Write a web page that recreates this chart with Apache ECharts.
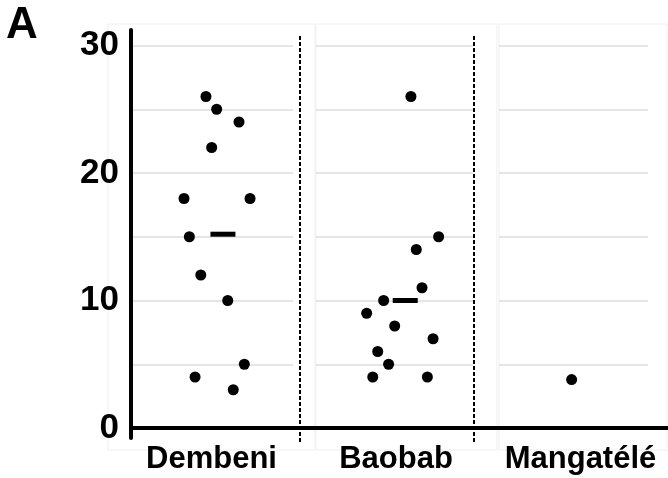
<!DOCTYPE html>
<html>
<head>
<meta charset="utf-8">
<script src="https://cdn.jsdelivr.net/npm/echarts@6/dist/echarts.min.js"></script>
<style>
html,body{margin:0;padding:0;background:#fff;}
#chart{width:668px;height:478px;}
</style>
</head>
<body>
<div id="chart"></div>
<script>
// ---- data ----
const categories = ['Dembeni', 'Baobab', 'Mangatélé'];
const categoryPos = [1, 2, 3];
const yTickLabels = [0, 10, 20, 30];

const dembeniY = [26, 25, 24, 22, 18, 18, 15, 12, 10, 5, 4, 3];
const dembeniX = [0.970, 1.028, 1.149, 1.001, 0.851, 1.209, 0.880, 0.942, 1.088, 1.178, 0.911, 1.118];

const baobabY = [26, 15, 14, 11, 10, 9, 8, 7, 6, 5, 4, 4];
const baobabX = [2.081, 2.231, 2.110, 2.141, 1.933, 1.841, 1.993, 2.201, 1.901, 1.960, 1.874, 2.170];

const mangateleY = [3.8];
const mangateleX = [2.952];

const meanY = [15.2, 10.0];
const meanX = [1.062, 2.050];

const separatorX = [1.480, 2.423];

// ---- layout ----
const X_MIN = 0.5637, X_MAX = 3.4743;
const Y_MIN = -0.784, Y_MAX = 31.216;
const FONT = "'Liberation Sans', Arial, Helvetica, sans-serif";

const zip = (xs, ys) => xs.map((x, i) => [x, ys[i]]);

const frames = [
  {left: 108, width: 207, top: 24, height: 426},
  {left: 316, width: 181, top: 24, height: 426},
  {left: 499, width: 168, top: 24, height: 426}
];
const panels = [
  {left: 133, width: 160},
  {left: 316, width: 157},
  {left: 499, width: 149}
];

const grids = [], xAxes = [], yAxes = [];
const hiddenAxis = (gi) => ({gridIndex: gi, type: 'value', show: false, min: 0, max: 1});
const G = {containLabel: false, outerBoundsMode: 'none'};

frames.forEach(f => {
  const gi = grids.length;
  grids.push(Object.assign({show: true, borderColor: '#efefef', borderWidth: 1, backgroundColor: 'transparent'}, G, f));
  xAxes.push(hiddenAxis(gi));
  yAxes.push(hiddenAxis(gi));
});
panels.forEach(p => {
  const gi = grids.length;
  grids.push(Object.assign({top: 45.5, height: 382.5, show: false}, G, p));
  xAxes.push(hiddenAxis(gi));
  yAxes.push({
    gridIndex: gi, type: 'value', min: 0, max: 30, interval: 5,
    axisLine: {show: false}, axisTick: {show: false}, axisLabel: {show: false},
    splitLine: {show: true, lineStyle: {color: '#dcdcdc', width: 1.5}}
  });
});
// dashed separator grid
const dashGrid = grids.length;
grids.push(Object.assign({left: 131, right: 0, top: 35, height: 407, show: false}, G));
xAxes.push({gridIndex: dashGrid, type: 'value', show: false, min: X_MIN, max: X_MAX});
yAxes.push(hiddenAxis(dashGrid));
// main grid
const mainGrid = grids.length;
grids.push(Object.assign({left: 131, right: 0, top: 30, height: 408, show: false}, G));
xAxes.push({
  gridIndex: mainGrid, type: 'value', min: X_MIN, max: X_MAX,
  axisLine: {show: true, onZero: true, lineStyle: {color: '#000', width: 4}},
  axisTick: {show: false},
  splitLine: {show: false},
  axisLabel: {
    customValues: categoryPos, margin: 6,
    color: '#000', fontSize: 31, fontWeight: 'bold', fontFamily: FONT,
    formatter: (v) => categories[categoryPos.indexOf(v)] || ''
  }
});
yAxes.push({
  gridIndex: mainGrid, type: 'value', min: Y_MIN, max: Y_MAX,
  axisLine: {show: true, lineStyle: {color: '#000', width: 4}},
  axisTick: {show: false},
  splitLine: {show: false},
  axisLabel: {
    customValues: yTickLabels, margin: 12,
    color: '#000', fontSize: 35, fontWeight: 'bold', fontFamily: FONT
  }
});

const dotStyle = {color: '#000', opacity: 1};
const series = [
  {
    type: 'scatter', xAxisIndex: dashGrid, yAxisIndex: dashGrid, data: [], silent: true,
    markLine: {
      silent: true, symbol: ['none', 'none'], label: {show: false},
      lineStyle: {color: '#000', width: 2, type: [4, 2], opacity: 1},
      data: separatorX.map(x => ({xAxis: x}))
    }
  },
  {type: 'scatter', name: categories[0], xAxisIndex: mainGrid, yAxisIndex: mainGrid,
   symbolSize: 11, itemStyle: dotStyle, data: zip(dembeniX, dembeniY)},
  {type: 'scatter', name: categories[1], xAxisIndex: mainGrid, yAxisIndex: mainGrid,
   symbolSize: 11, itemStyle: dotStyle, data: zip(baobabX, baobabY)},
  {type: 'scatter', name: categories[2], xAxisIndex: mainGrid, yAxisIndex: mainGrid,
   symbolSize: 11, itemStyle: dotStyle, data: zip(mangateleX, mangateleY)},
  {type: 'scatter', name: 'mean', xAxisIndex: mainGrid, yAxisIndex: mainGrid,
   symbol: 'rect', symbolSize: [25, 5], itemStyle: dotStyle, data: zip(meanX, meanY)}
];

const chart = echarts.init(document.getElementById('chart'), null, {renderer: 'canvas'});
chart.setOption({
  animation: false,
  backgroundColor: '#fff',
  title: {
    text: 'A', left: 6, top: 4, padding: 0,
    textStyle: {color: '#000', fontSize: 44, fontWeight: 'bold', fontFamily: FONT}
  },
  grid: grids,
  xAxis: xAxes,
  yAxis: yAxes,
  series: series
});
</script>
</body>
</html>
